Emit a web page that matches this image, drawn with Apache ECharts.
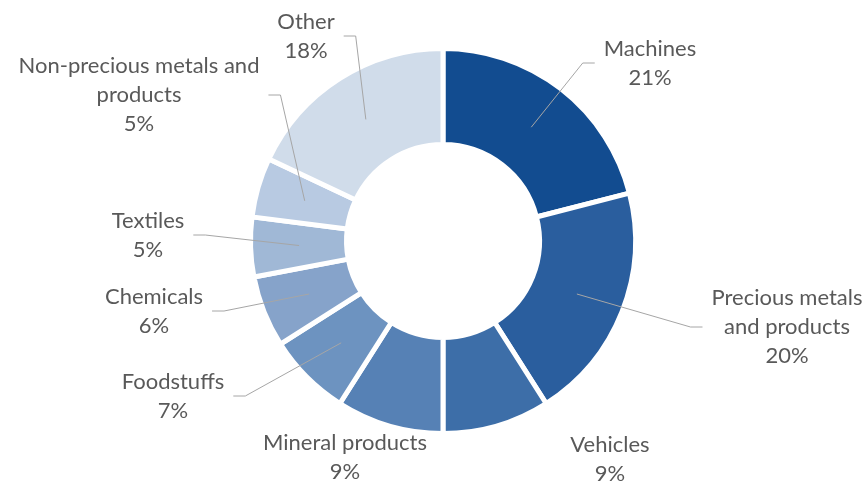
<!DOCTYPE html>
<html>
<head>
<meta charset="utf-8">
<script src="https://cdn.jsdelivr.net/npm/echarts@6/dist/echarts.min.js"></script>
<style>
  html, body { margin: 0; padding: 0; background: #ffffff; }
  #chart { width: 868px; height: 484px; }
</style>
</head>
<body>
<div id="chart"></div>
<script>
// Export structure by product group, share in percent
const categories = [
  'Machines',
  'Precious metals and products',
  'Vehicles',
  'Mineral products',
  'Foodstuffs',
  'Chemicals',
  'Textiles',
  'Non-precious metals and products',
  'Other'
];
const shares = [21, 20, 9, 9, 7, 6, 5, 5, 18];

// Label text as it is wrapped on the chart
const labelNames = [
  'Machines',
  'Precious metals\nand products',
  'Vehicles',
  'Mineral products',
  'Foodstuffs',
  'Chemicals',
  'Textiles',
  'Non-precious metals and\nproducts',
  'Other'
];

const sliceColors = [
  '#124C90', '#2A5E9E', '#3D6EA8', '#5681B5', '#6D93C0',
  '#86A3CA', '#A0B8D6', '#B8CAE2', '#D0DCEA'
];

// Which labels are joined to their slice by a leader line
const leaderLine = [true, true, false, false, true, true, true, true, true];

// Centre of each label block on the canvas
const labelAt = [
  [650, 63], [787, 327], [610, 459], [345, 457], [173, 396],
  [154, 311], [148, 235], [139, 95], [306, 36]
];

const CX = 443, CY = 241;      // ring centre
const R0 = 96.5, R1 = 192.5;   // inner / outer radius
const RM = 144;                // leader lines start half way across the ring
const GAP = 9, ELBOW = 12;     // space to the text, horizontal end piece

// shared ring geometry; the wide layout box keeps long labels from being narrowed
const ring = {
  type: 'pie',
  left: -300, right: -318, top: -1, bottom: 1,
  center: ['50%', '50%'],
  radius: [R0, R1],
  startAngle: 90,
  clockwise: true,
  avoidLabelOverlap: false,
  silent: true
};

const chart = echarts.init(document.getElementById('chart'), null, { renderer: 'canvas' });

chart.setOption({
  animation: false,
  backgroundColor: '#ffffff',
  series: [
    // coloured slices
    Object.assign({}, ring, {
      z: 2,
      itemStyle: { borderColor: '#ffffff', borderWidth: 5 },
      label: { show: false },
      labelLine: { show: false },
      data: categories.map((name, i) => ({
        name: name,
        value: shares[i],
        itemStyle: { color: sliceColors[i] }
      }))
    }),
    // labels and leader lines, layered above the slices
    Object.assign({}, ring, {
      z: 3,
      itemStyle: { color: 'rgba(0,0,0,0)', borderWidth: 0 },
      label: {
        show: true,
        position: 'outside',
        formatter: p => labelNames[p.dataIndex] + '\n' + p.value + '%',
        color: '#595959',
        fontFamily: 'Lato',
        fontSize: 22,
        lineHeight: 29,
        align: 'center'
      },
      labelLine: {
        show: true,
        length: 20,
        length2: 10,
        lineStyle: { color: '#A6A6A6', width: 1 }
      },
      labelLayout: function (p) {
        const i = p.dataIndex;
        const lx = labelAt[i][0], ly = labelAt[i][1];
        const out = { x: lx, y: ly, align: 'center', verticalAlign: 'middle' };
        const pts = p.labelLinePoints;
        if (leaderLine[i] && pts) {
          const dx = pts[0][0] - CX, dy = pts[0][1] - CY;
          const d = Math.hypot(dx, dy);
          const sx = CX + dx / d * RM, sy = CY + dy / d * RM;
          const side = lx > sx ? -1 : 1;   // meet the label on its left or right edge
          const ex = lx + side * (p.labelRect.width / 2 + GAP);
          out.labelLinePoints = [[sx, sy], [ex + side * ELBOW, ly], [ex, ly]];
        }
        return out;
      },
      data: categories.map((name, i) => ({
        name: name,
        value: shares[i],
        labelLine: { show: leaderLine[i] }
      }))
    })
  ]
});
</script>
</body>
</html>
